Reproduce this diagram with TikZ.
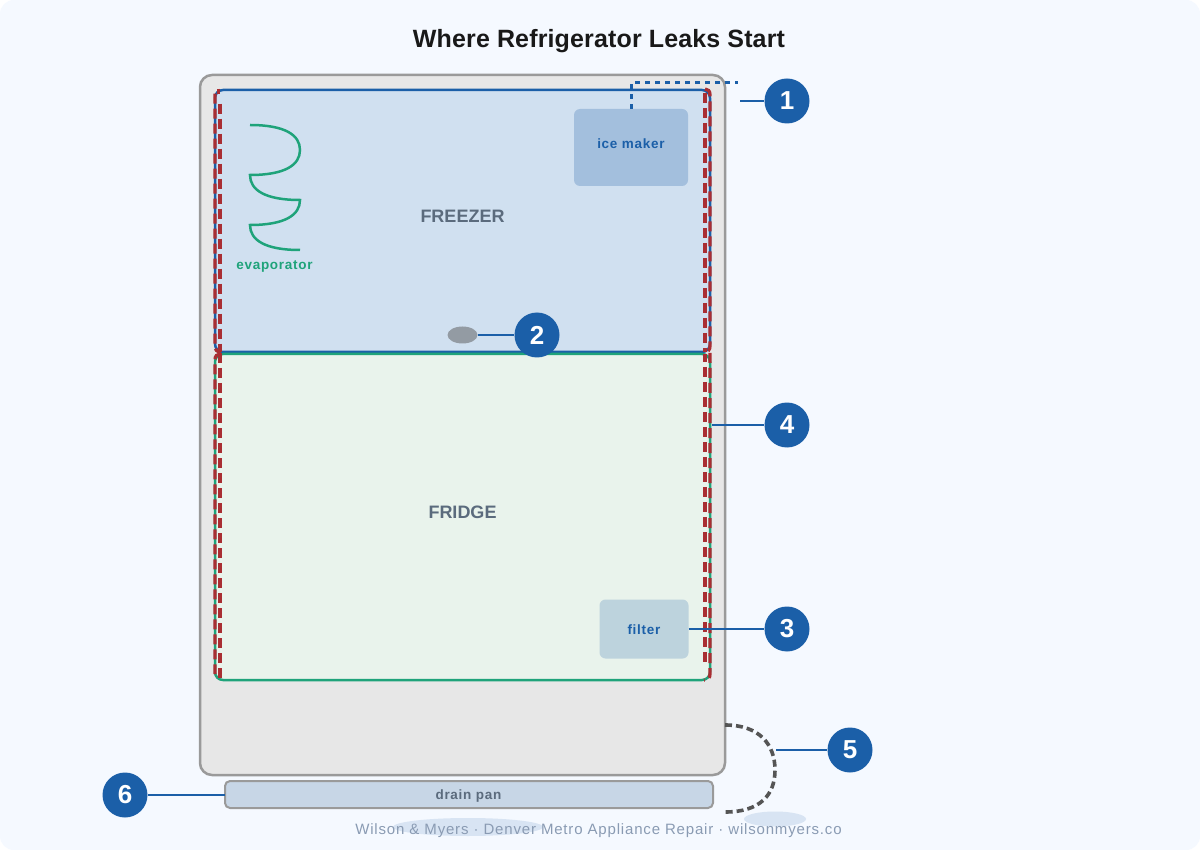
\documentclass[tikz,border=0pt]{standalone}
\usepackage{fontspec}
\usetikzlibrary{shapes.geometric}
\setmainfont{Liberation Sans}
\definecolor{pagebg}{HTML}{F5F9FF}
\definecolor{blueC}{HTML}{1B5FA8}
\definecolor{greenC}{HTML}{1FA37A}
\definecolor{redC}{HTML}{A92E33}
\definecolor{cabC}{HTML}{E7E7E7}
\definecolor{cabS}{HTML}{9A9A9A}
\definecolor{frzC}{HTML}{D0E0F0}
\definecolor{frgC}{HTML}{E9F3EC}
\definecolor{iceC}{HTML}{A3BFDD}
\definecolor{filC}{HTML}{BDD3DD}
\definecolor{panC}{HTML}{C7D6E6}
\definecolor{slateC}{HTML}{5B6B7D}
\definecolor{footC}{HTML}{8A9BB3}
\definecolor{puddleC}{HTML}{D8E4F3}
\definecolor{clogC}{HTML}{939BA3}
\definecolor{hoseC}{HTML}{555555}
\tikzset{
 x=1pt,y=-1pt,
 numdot/.style={circle,fill=blueC,draw=none,minimum size=45pt,inner sep=0pt,text=white,font=\fontsize{26}{26}\selectfont\bfseries},
 leader/.style={draw=blueC,line width=2.5pt},
 lab/.style={font=\fontsize{13.5}{15}\selectfont\bfseries\addfontfeature{LetterSpace=5.5},inner sep=0pt},
 zone/.style={font=\fontsize{18}{20}\selectfont\bfseries,text=slateC,inner sep=0pt},
 leakred/.style={draw=redC,line width=3.3pt,dash pattern=on 10pt off 5pt},
}
\begin{document}
\begin{tikzpicture}
\useasboundingbox (0,0) rectangle (1200,850);
\fill[white] (0,0) rectangle (1200,850);
\fill[pagebg,rounded corners=14pt] (0,0) rectangle (1200,850);
\node[font=\fontsize{25}{28}\selectfont\bfseries\addfontfeature{LetterSpace=0.6},text=black!90,inner sep=0pt] (title) at (599,41) {Where Refrigerator Leaks Start};
% puddles
\fill[puddleC] (468,827) ellipse [x radius=75,y radius=9];
\fill[puddleC] (775,819) ellipse [x radius=31,y radius=7.5];
% cabinet
\draw[fill=cabC,draw=cabS,line width=2.5pt,rounded corners=12pt] (200,75) rectangle (725,775);
% compartments
\draw[fill=frzC,draw=blueC,line width=2.5pt,rounded corners=8pt] (215,90) rectangle (710,352);
\draw[fill=frgC,draw=greenC,line width=2.5pt,rounded corners=8pt] (215,354) rectangle (710,680);
% evaporator
\draw[greenC,line width=2.5pt] (250,125) .. controls (285,125) and (300,135) .. (300,150)
  .. controls (300,165) and (285,175) .. (250,175)
  .. controls (250,190) and (265,200) .. (300,200)
  .. controls (300,215) and (285,225) .. (250,225)
  .. controls (250,240) and (265,250) .. (300,250);
\node[lab,text=greenC] (evap) at (274.5,266) {evaporator};
% ice maker
\node[fill=iceC,rounded corners=6pt,minimum width=114pt,minimum height=77pt,inner sep=0pt] (ice) at (631,147.5) {};
\node[lab,text=blueC] (icet) at (631,144) {ice maker};
\coordinate (iceTop) at (631,109);
\coordinate (iceCorner) at (631,83);
\coordinate (iceEnd) at (738,83);
\draw[blueC,line width=3pt,dash pattern=on 5pt off 5pt] (iceTop) -- (iceCorner) -- (iceEnd);
% filter
\node[fill=filC,rounded corners=6pt,minimum width=89pt,minimum height=59pt,inner sep=0pt] (filter) at (644,629) {};
\node[lab,text=blueC] (filtert) at (644,629.5) {filter};
% zone labels
\node[zone] (frz) at (462.5,216.5) {FREEZER};
\node[zone] (frg) at (462.5,512.5) {FRIDGE};
% clog
\node[ellipse,fill=clogC,draw=none,minimum width=30pt,minimum height=17pt,inner sep=0pt] (clog) at (462.5,335) {};
% leak dashes: left freezer
\draw[leakred] (218.5,88.7) -- (218.5,93.7);
\draw[leakred] (220,103.7) -- (220,352);
\draw[leakred] (215,93.7) -- (215,346) .. controls (215,350) and (217,352) .. (221,352);
% left fridge
\draw[leakred] (220,353) -- (220,680);
\draw[leakred,dash phase=2pt] (220,354) .. controls (217,354) and (215,356) .. (215,360) -- (215,674);
% right freezer
\draw[leakred] (705,93) -- (705,352);
\draw[leakred] (705,89) .. controls (708,89) and (710,91) .. (710,95) -- (710,346) .. controls (710,350) and (708,352) .. (704,352);
% right fridge
\draw[leakred] (710,353) -- (710,674) .. controls (710,678) and (708,680) .. (704,680);
\draw[leakred,dash phase=2pt] (705,354) -- (705,664);
% drain pan
\draw[fill=panC,draw=cabS,line width=2pt,rounded corners=5pt] (225,781) rectangle (713,808);
\coordinate (panL) at (225,795);
\node[lab,text=slateC] (pant) at (468.5,796) {drain pan};
% hose
\draw[hoseC,line width=3.6pt,dash pattern=on 7pt off 4pt] (725,725) .. controls (760,725) and (775,745) .. (775,770) .. controls (775,795) and (760,812) .. (725,812);
% callouts
\node[numdot] (n1) at (787,101) {1};
\node[numdot] (n2) at (537,335) {2};
\node[numdot] (n3) at (787,629) {3};
\node[numdot] (n4) at (787,425) {4};
\node[numdot] (n5) at (850,750) {5};
\node[numdot] (n6) at (125,795) {6};
\coordinate (a1) at (740,101);
\coordinate (a4) at (712,425);
\coordinate (a5) at (776,750);
\draw[leader] (a1) -- (n1);
\draw[leader] (clog) -- (n2);
\draw[leader] (filter) -- (n3);
\draw[leader] (a4) -- (n4);
\draw[leader] (a5) -- (n5);
\draw[leader] (panL) -- (n6);
\node[font=\fontsize{15}{16}\selectfont\addfontfeature{LetterSpace=5.5},text=footC,inner sep=0pt] (foot) at (598.5,831) {Wilson \& Myers · Denver Metro Appliance Repair · wilsonmyers.co};
\end{tikzpicture}
\end{document}
